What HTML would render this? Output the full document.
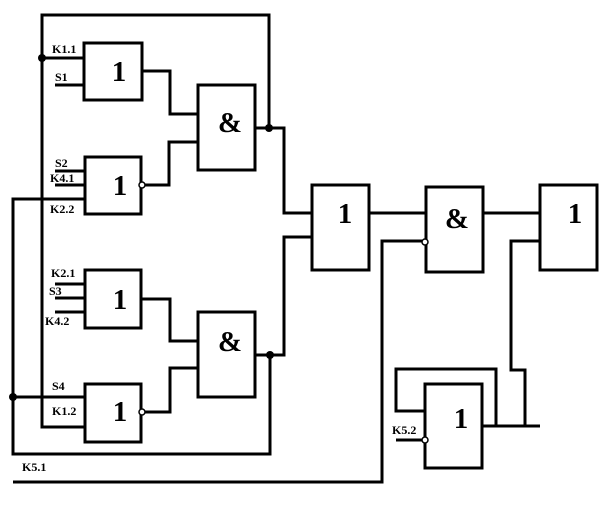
<!DOCTYPE html>
<html><head><style>body{margin:0;background:#fff}svg{display:block}</style></head><body>
<svg width="610" height="512" viewBox="0 0 610 512" xmlns="http://www.w3.org/2000/svg">
<g fill="none" stroke="#000" stroke-width="3">
<rect x="84" y="43" width="58" height="57"/>
<rect x="198" y="85" width="57" height="85"/>
<rect x="85" y="157" width="56" height="57"/>
<rect x="85" y="270" width="56" height="58"/>
<rect x="198" y="312" width="57" height="85"/>
<rect x="85" y="384" width="56" height="58"/>
<rect x="312" y="185" width="57" height="85"/>
<rect x="426" y="187" width="57" height="85"/>
<rect x="540" y="185" width="57" height="85"/>
<rect x="425" y="384" width="57" height="84"/>
<polyline points="269,128 269,15 42,15 42,427 85,427"/>
<polyline points="85,199 13,199 13,454 270,454 270,355"/>
<line x1="42" y1="58" x2="84" y2="58"/>
<line x1="55" y1="85" x2="84" y2="85"/>
<polyline points="142,71 170,71 170,114 198,114"/>
<polyline points="255,128 284,128 284,213 312,213"/>
<line x1="55" y1="171" x2="85" y2="171"/>
<line x1="55" y1="185" x2="85" y2="185"/>
<polyline points="145,185 169,185 169,142 198,142"/>
<line x1="55" y1="284" x2="85" y2="284"/>
<line x1="55" y1="298" x2="85" y2="298"/>
<line x1="55" y1="312" x2="85" y2="312"/>
<polyline points="141,299 170,299 170,341 198,341"/>
<polyline points="255,355 284,355 284,237 312,237"/>
<line x1="13" y1="397" x2="85" y2="397"/>
<polyline points="145,412 170,412 170,368 198,368"/>
<polyline points="13,482 382,482 382,241 422,241"/>
<line x1="369" y1="213" x2="426" y2="213"/>
<line x1="483" y1="213" x2="540" y2="213"/>
<polyline points="540,241 511,241 511,370 525,370 525,426"/>
<line x1="482" y1="426" x2="540" y2="426"/>
<polyline points="496,426 496,369 396,369 396,411 425,411"/>
<line x1="396" y1="440" x2="422" y2="440"/>
</g>
<g fill="#fff" stroke="#000" stroke-width="1.5">
<circle cx="142" cy="185" r="3"/><circle cx="142" cy="412" r="3"/>
<circle cx="425" cy="242" r="3"/><circle cx="425" cy="440" r="3"/>
</g>
<g fill="#000">
<circle cx="42" cy="58" r="4"/><circle cx="269" cy="128" r="4"/>
<circle cx="270" cy="355" r="4"/><circle cx="13" cy="397" r="4"/>
</g>
<g font-family="Liberation Serif, serif" font-weight="bold" font-size="29" text-anchor="middle">
<text x="119" y="81">1</text><text x="230" y="132">&amp;</text>
<text x="120" y="195">1</text><text x="120" y="309">1</text>
<text x="230" y="351">&amp;</text><text x="120" y="421">1</text>
<text x="345" y="223">1</text><text x="457" y="228">&amp;</text>
<text x="575" y="223">1</text><text x="461" y="428">1</text>
</g>
<g font-family="Liberation Serif, serif" font-weight="bold" font-size="12">
<text x="52" y="53">K1.1</text><text x="55" y="81">S1</text>
<text x="55" y="167">S2</text><text x="50" y="182">K4.1</text>
<text x="50" y="213">K2.2</text><text x="51" y="277">K2.1</text>
<text x="49" y="295">S3</text><text x="45" y="325">K4.2</text>
<text x="52" y="390">S4</text><text x="52" y="415">K1.2</text>
<text x="22" y="471">K5.1</text><text x="392" y="434">K5.2</text>
</g>
</svg>
</body></html>
